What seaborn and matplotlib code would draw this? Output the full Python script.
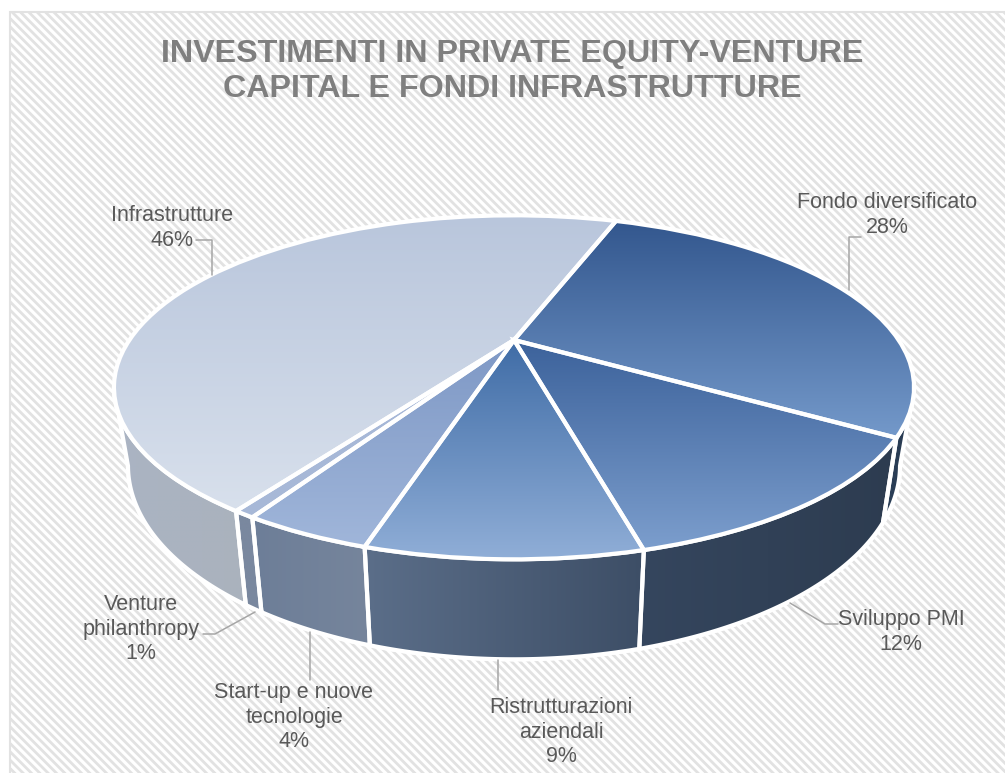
import numpy as np
import matplotlib
matplotlib.use("Agg")
import matplotlib.pyplot as plt
from matplotlib.patches import Rectangle, Polygon
from matplotlib.transforms import Transform
import seaborn as sns

sns.set_theme(style="white")
plt.rcParams['font.family'] = ['Liberation Sans', 'DejaVu Sans']
plt.rcParams['hatch.linewidth'] = 2.0

title_lines = ["INVESTIMENTI IN PRIVATE EQUITY-VENTURE", "CAPITAL E FONDI INFRASTRUTTURE"]
categories = ["Fondo diversificato", "Sviluppo PMI", "Ristrutturazioni aziendali",
              "Start-up e nuove tecnologie", "Venture philanthropy", "Infrastrutture"]
values = [28.4, 12.2, 8.6, 4.1, 0.7, 46.0]
start_angle = 70.5

# top colours (dark, light), wall colours (left, right)
top_colors = [("#33578e", "#7499ca"), ("#3c629b", "#7c9ecd"), ("#3f6ca6", "#90aed7"),
              ("#7e98c5", "#a0b6da"), ("#a6b7d7", "#a8b9d8"), ("#b9c6dc", "#d8e0ec")]
wall_colors = [("#2c4059", "#27394f"), ("#35465e", "#2d3c50"), ("#5b6e89", "#3d4e66"),
               ("#6d7e98", "#76859c"), ("#7a889f", "#7a889f"), ("#aab4c3", "#aab2bd")]

# label text, centre of the block, leader line (all in picture pixels)
label_text = ["Fondo diversificato\n28%", "Sviluppo PMI\n12%", "Ristrutturazioni\naziendali\n9%",
              "Start-up e nuove\ntecnologie\n4%", "Venture\nphilanthropy\n1%", "Infrastrutture\n46%"]
label_pos = [(887, 215), (901, 632), (561, 732), (294, 717), (141, 629), (172, 228)]
leaders = [[(849, 290), (849, 237), (861, 237)],
           [(790, 603), (825, 624), (838, 624)],
           [(498, 660), (498, 690)],
           [(310, 632), (310, 680)],
           [(255, 612), (215, 634), (203, 634)],
           [(212, 275), (212, 240), (196, 240)]]

CX, CY = 514, 340
A, B, K = 384.6, 159, 0.275   # plane perspective
WALL = 72.5                   # wall height
SHRINK = 0.035


class Persp(Transform):
    input_dims = output_dims = 2

    def __init__(self, level=0.0):
        super().__init__()
        self.level = level

    def transform_non_affine(self, values):
        uv = np.asarray(values, dtype=float)
        w = 1 + K * uv[:, 1]
        x = CX + A * uv[:, 0] / w * (1 - SHRINK * self.level)
        y = CY - (B * uv[:, 1] - WALL * self.level) / w
        return np.column_stack([x, y])


def gradient(ax, clip, x0, x1, y0, y1, c0, c1, horizontal=False):
    cmap = sns.blend_palette([c0, c1], as_cmap=True)
    g = np.linspace(0, 1, 256)
    g = g[None, :] if horizontal else g[:, None]
    im = ax.imshow(g, cmap=cmap, vmin=0, vmax=1, aspect='auto', extent=(x0, x1, y1, y0),
                   origin='upper', interpolation='bilinear', zorder=3)
    im.set_clip_path(clip)
    return im


fig = plt.figure(figsize=(10.05, 7.73), dpi=100, facecolor='white')
ax = fig.add_axes([0, 0, 1, 1])

ax.add_patch(Rectangle((10, 12), 1000, 770, facecolor='white', edgecolor='#e2e2e2',
                       hatch='\\\\\\\\', linewidth=1.5, zorder=0))

# pie gives the slice angles, the perspective transform puts them on the page
wedges, _ = ax.pie(values, startangle=start_angle, counterclock=False, radius=1,
                   colors=[c[0] for c in top_colors], frame=False)
outlines, _ = ax.pie(values, startangle=start_angle, counterclock=False, radius=1,
                     colors=['none'] * len(values), frame=False,
                     wedgeprops=dict(edgecolor='white', linewidth=3.0))

plane = Persp(0) + ax.transData
vis0, vis1 = 196.0, 344.0
for i, (wedge, outline) in enumerate(zip(wedges, outlines)):
    wedge.set_transform(plane)
    wedge.set_zorder(2)
    outline.set_transform(plane)
    outline.set_zorder(6)

    # wall below the slice
    t1 = wedge.theta1 % 360
    t2 = t1 + (wedge.theta2 - wedge.theta1)
    a0, a1 = max(t1, vis0), min(t2, vis1)
    if a1 > a0:
        th = np.radians(np.linspace(a0, a1, 80))
        arc = np.column_stack([np.cos(th), np.sin(th)])
        top = Persp(0).transform_non_affine(arc)
        bot = Persp(1).transform_non_affine(arc)
        verts = np.vstack([top, bot[::-1]])
        wall = Polygon(verts, closed=True, facecolor=wall_colors[i][0], edgecolor='white',
                       linewidth=3.0, zorder=2)
        ax.add_patch(wall)
        im = gradient(ax, wall, verts[:, 0].min(), verts[:, 0].max(), verts[:, 1].min(),
                      verts[:, 1].max(), wall_colors[i][0], wall_colors[i][1], horizontal=True)
        edge = Polygon(verts, closed=True, facecolor='none', edgecolor='white',
                       linewidth=3.0, zorder=4)
        ax.add_patch(edge)

    # gradient over the slice top
    th = np.radians(np.linspace(wedge.theta1, wedge.theta2, 80))
    pts = np.vstack([[0, 0], np.column_stack([np.cos(th), np.sin(th)])])
    box = Persp(0).transform_non_affine(pts)
    gradient(ax, wedge, box[:, 0].min(), box[:, 0].max(), box[:, 1].min(), box[:, 1].max(),
             top_colors[i][0], top_colors[i][1]).set_zorder(5)

for text, pos, line in zip(label_text, label_pos, leaders):
    ax.text(pos[0], pos[1], text, ha='center', va='center', fontsize=15.5, color='#595959',
            linespacing=1.24, zorder=8)
    ax.plot(*zip(*line), color='#a6a6a6', linewidth=1.1, zorder=7)

ax.text(512, 54, title_lines[0], ha='center', va='center', fontsize=23.2, fontweight='bold',
        color='#7f7f7f', zorder=8)
ax.text(512, 89, title_lines[1], ha='center', va='center', fontsize=23.2, fontweight='bold',
        color='#7f7f7f', zorder=8)

ax.set_aspect('auto')
ax.set_xlim(0, 1005)
ax.set_ylim(773, 0)
ax.axis('off')
fig.savefig("out.png", dpi=100)
